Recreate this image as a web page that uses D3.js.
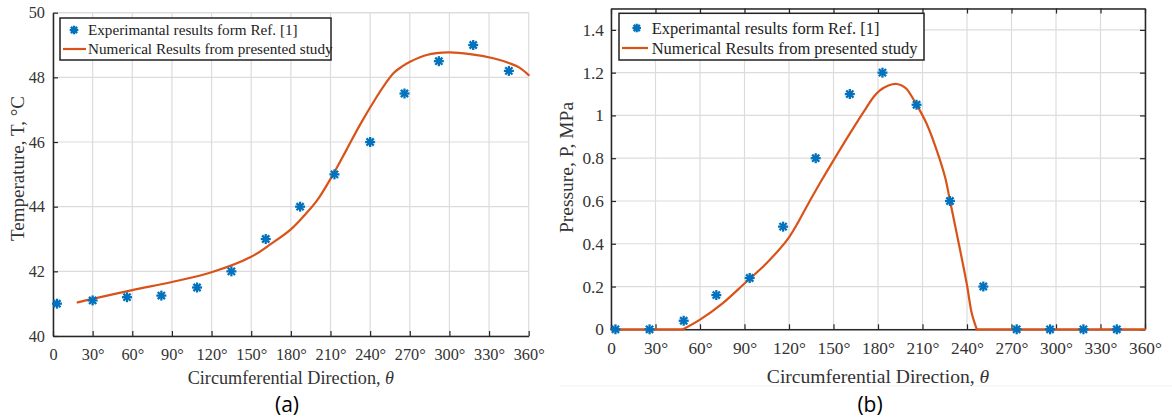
<!DOCTYPE html>
<html><head><meta charset="utf-8">
<script src="https://cdn.jsdelivr.net/npm/d3@7"></script>
<style>body{margin:0;background:#fff}svg{display:block}
.ax text{font-family:'Liberation Serif','Times New Roman',serif;fill:#333}</style>
</head><body>
<svg id="c" width="1172" height="419"></svg>
<script>
// ---- data ----
const xTicks = [0,30,60,90,120,150,180,210,240,270,300,330,360];
const tempTicks = [40,42,44,46,48,50];
const presTicks = [0,0.2,0.4,0.6,0.8,1,1.2,1.4];

const tempExpAngle = [3,30,56,82,109,135,161,187,213,240,266,292,318,345];
const tempExpValue = [41.0,41.1,41.2,41.25,41.5,42.0,43.0,44.0,45.0,46.0,47.5,48.5,49.0,48.2];
const tempNumAngle = [18.7,30,60,90,120,150,165,180,190,200,212,222,232.3,245,251.3,257.6,264,270.2,282.8,299.2,315.6,333.2,345.9,353,360];
const tempNumValue = [41.04,41.15,41.42,41.67,41.97,42.45,42.85,43.3,43.72,44.2,45.0,45.75,46.53,47.4,47.79,48.13,48.33,48.48,48.69,48.77,48.72,48.59,48.43,48.3,48.07];

const presExpAngle = [3,26,49,71,93.5,116,138,161,183,206,228.5,251,273.5,296,318.5,341];
const presExpValue = [0,0,0.04,0.16,0.24,0.48,0.8,1.1,1.2,1.05,0.6,0.2,0,0,0,0];
const presNumAngle = [0,48.6,60,75,90,105,120,134,142,150,161,172.4,177,181.3,187,192.6,196,199.3,205.6,212.8,219.6,225.2,228.5,239.8,243.2,246.6,360];
const presNumValue = [0,0,0.045,0.12,0.214,0.31,0.43,0.6,0.697,0.79,0.915,1.039,1.086,1.117,1.14,1.147,1.14,1.124,1.055,0.961,0.837,0.712,0.603,0.214,0.075,0,0];

const legendExp = "Experimantal results form Ref. [1]";
const legendNum = "Numerical Results from presented study";

// ---- drawing ----
const svg = d3.select("#c");
const BLUE = "#0072BD", ORANGE = "#D95319", AX = "#262626", GRID = "#dcdcdc";
const SERIF = "'Liberation Serif','Times New Roman',serif";

function star(g, x, y, r){
  const s = g.append("g").attr("transform", `translate(${x},${y})`);
  const d = r*0.72;
  [[-r,0,r,0],[0,-r,0,r],[-d,-d,d,d],[-d,d,d,-d]].forEach(l=>{
    s.append("line").attr("x1",l[0]).attr("y1",l[1]).attr("x2",l[2]).attr("y2",l[3])
     .attr("stroke",BLUE).attr("stroke-width",2.3);
  });
}

// split a polyline into flat (zero) runs and curved runs
function splitFlat(pts){
  const segs = []; let cur = [pts[0]];
  const isFlat = (a,b) => a[1]===0 && b[1]===0;
  for(let i=1;i<pts.length;i++){
    const f = isFlat(pts[i-1],pts[i]);
    if(cur.length>1){
      const pf = isFlat(cur[cur.length-2],cur[cur.length-1]);
      if(pf!==f){ segs.push(cur); cur=[pts[i-1]]; }
    }
    cur.push(pts[i]);
  }
  segs.push(cur);
  return segs;
}

function panel(o){
  const g = svg.append("g");
  const x = d3.scaleLinear().domain([0,360]).range([o.x0,o.x1]);
  const y = d3.scaleLinear().domain(o.yDomain).range([o.y0,o.y1]);
  // grid
  g.append("g").selectAll("line").data(xTicks).join("line")
    .attr("x1",d=>x(d)).attr("x2",d=>x(d)).attr("y1",o.y0).attr("y2",o.y1)
    .attr("stroke",GRID).attr("stroke-width",1.2);
  g.append("g").selectAll("line").data(o.yTicks.concat(o.yDomain[1])).join("line")
    .attr("x1",o.x0).attr("x2",o.x1).attr("y1",d=>y(d)).attr("y2",d=>y(d))
    .attr("stroke",GRID).attr("stroke-width",1.2);
  // axes
  const fmtX = d => d===0 ? "0" : d + "\u00B0";
  const ax = g.append("g").attr("class","ax").attr("transform",`translate(0,${o.y0})`)
    .call(d3.axisBottom(x).tickValues(xTicks).tickFormat(fmtX).tickSizeInner(-5).tickSizeOuter(0).tickPadding(12));
  const ay = g.append("g").attr("class","ax").attr("transform",`translate(${o.x0},0)`)
    .call(d3.axisLeft(y).tickValues(o.yTicks).tickFormat(o.fmtY).tickSizeInner(-5).tickSizeOuter(0).tickPadding(o.yPad));
  [ax,ay].forEach(a=>{
    a.attr("font-family",SERIF).attr("font-size",o.tickFs);
    a.select(".domain").attr("stroke",AX).attr("stroke-width",1.5);
    a.selectAll(".tick line").attr("stroke",AX).attr("stroke-width",1.2);
    a.selectAll("text").attr("fill","#333").style("font-family",SERIF).style("font-size",o.tickFs+"px");
  });
  if(o.box){
    const at = g.append("g").attr("transform",`translate(0,${o.y1})`)
      .call(d3.axisTop(x).tickValues(xTicks).tickFormat("").tickSizeInner(-5).tickSizeOuter(0));
    const ar = g.append("g").attr("transform",`translate(${o.x1},0)`)
      .call(d3.axisRight(y).tickValues(o.yTicks).tickFormat("").tickSizeInner(-5).tickSizeOuter(0));
    [at,ar].forEach(a=>{
      a.select(".domain").attr("stroke",AX).attr("stroke-width",1.5);
      a.selectAll(".tick line").attr("stroke",AX).attr("stroke-width",1.2);
    });
  }
  // curve
  const pts = o.numA.map((a,i)=>[a,o.numV[i]]);
  const line = d3.line().x(d=>x(d[0])).y(d=>y(d[1])).curve(d3.curveCatmullRom.alpha(0.5));
  g.append("g").selectAll("path").data(splitFlat(pts)).join("path")
    .attr("d", line)
    .attr("fill","none").attr("stroke",ORANGE).attr("stroke-width",2.2)
    .attr("stroke-linejoin","round").attr("stroke-linecap","round");
  // markers
  o.expA.forEach((a,i)=> star(g, x(a), y(o.expV[i]), 5));
  // axis titles
  const xt = g.append("text").attr("x",(o.x0+o.x1)/2).attr("y",o.xTitleY)
    .attr("text-anchor","middle").attr("fill","#333")
    .style("font-family",SERIF).style("font-size",o.titleFs+"px");
  xt.append("tspan").text("Circumferential Direction, ");
  xt.append("tspan").style("font-style","italic").text("\u03B8");
  g.append("text").attr("transform",`translate(${o.yTitleX},${o.yTitleCy}) rotate(-90)`)
    .attr("text-anchor","middle").attr("fill","#333")
    .style("font-family",SERIF).style("font-size",o.yTitleFs+"px").text(o.yTitle);
  // legend
  const L = o.leg;
  g.append("rect").attr("x",L.x).attr("y",L.y).attr("width",L.w).attr("height",L.h)
    .attr("fill","#fff").attr("stroke","#222").attr("stroke-width",1.5);
  star(g, L.x+L.mx, L.y+L.r1, 4.3);
  g.append("line").attr("x1",L.x+3).attr("x2",L.x+L.lw).attr("y1",L.y+L.r2).attr("y2",L.y+L.r2)
    .attr("stroke",ORANGE).attr("stroke-width",2.2);
  [[legendExp,L.r1],[legendNum,L.r2]].forEach(t=>{
    g.append("text").attr("x",L.x+L.tx).attr("y",L.y+t[1]).attr("dy","0.35em")
      .attr("fill","#222").style("font-family",SERIF).style("font-size",L.fs+"px").text(t[0]);
  });
  // panel label
  g.append("text").attr("x",o.labX).attr("y",o.labY).attr("text-anchor","middle")
    .attr("fill","#000").style("font-family","'Open Sans','Liberation Sans',sans-serif")
    .style("font-size","21px").text(o.lab);
}

panel({x0:53,x1:528.7,y0:336,y1:12.7,yDomain:[40,50],yTicks:tempTicks,fmtY:d=>d,yPad:8,
  numA:tempNumAngle,numV:tempNumValue,expA:tempExpAngle,expV:tempExpValue,
  box:false,tickFs:16.3,titleFs:18.2,xTitleY:384,yTitleX:24,yTitleCy:168.5,yTitleFs:19,yTitle:"Temperature, T, \u00B0C",
  leg:{x:60,y:18,w:271,h:42,mx:14,r1:12,r2:31,lw:26,tx:28,fs:15.2},
  lab:"(a)",labX:287,labY:412});

svg.append("line").attr("x1",560).attr("x2",1172).attr("y1",386).attr("y2",386)
  .attr("stroke","#f2f2f2").attr("stroke-width",1);

panel({x0:611,x1:1145,y0:329.3,y1:8.5,yDomain:[0,1.5],yTicks:presTicks,fmtY:d=>d,yPad:7,
  numA:presNumAngle,numV:presNumValue,expA:presExpAngle,expV:presExpValue,
  box:true,tickFs:17.3,titleFs:19.6,xTitleY:383,yTitleX:573,yTitleCy:167.5,yTitleFs:19.5,yTitle:"Pressure, P, MPa",
  leg:{x:619,y:13.3,w:305,h:46.7,mx:17.7,r1:14.7,r2:34.7,lw:29,tx:32.7,fs:16.5},
  lab:"(b)",labX:870,labY:412});
</script>
</body></html>
